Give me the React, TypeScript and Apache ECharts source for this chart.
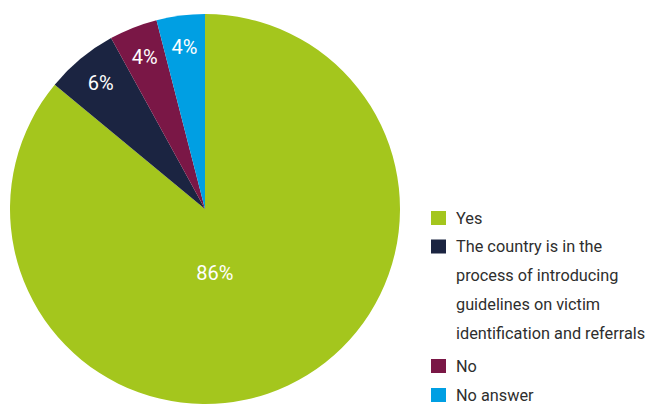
import React, { useEffect, useRef } from "react";
import * as echarts from "echarts";

const categories = [
  "Yes",
  "The country is in the\nprocess of introducing\nguidelines on victim\nidentification and referrals",
  "No",
  "No answer",
];
const values = [86, 6, 4, 4];
const colors = ["#a4c61d", "#1b2441", "#7a1746", "#009fe3"];

const FONT = "Roboto, 'Noto Sans', sans-serif";
const LH = 29;

export default function App() {
  const ref = useRef<HTMLDivElement>(null);
  useEffect(() => {
    if (!ref.current) return;
    const chart = echarts.init(ref.current, undefined, { renderer: "svg" });
    const data = categories.map((name, i) => ({
      name,
      value: values[i],
      itemStyle: { color: colors[i] },
    }));
    const legendText = {
      fontFamily: FONT,
      fontSize: 16.3,
      color: "#2e2e2e",
      lineHeight: LH,
      padding: [0, 0, 0, 5],
    };
    const tallIcon = `path://M0 ${LH / 2 - 7}H15V${LH / 2 + 7}H0Z M0 0L0 0 M0 ${LH * 4}L0 ${LH * 4}`;
    const legendBase = {
      orient: "vertical",
      left: 431,
      padding: 0,
      itemWidth: 15,
      itemHeight: 14,
      itemGap: 0,
      icon: "rect",
      textStyle: legendText,
      selectedMode: false,
      height: 200,
    };
    chart.setOption({
      animation: false,
      legend: [
        { ...legendBase, top: 203.5, data: [categories[0]] },
        { ...legendBase, top: 232, itemHeight: LH * 4, icon: tallIcon, data: [categories[1]] },
        { ...legendBase, top: 351.5, data: [categories[2], categories[3]] },
      ],
      series: [
        {
          type: "pie",
          center: [205, 209],
          radius: 195,
          startAngle: 90,
          clockwise: true,
          data: data.map((d, i) => ({
            ...d,
            label: { show: i === 0 },
          })),
          label: {
            position: "inside",
            color: "#ffffff",
            fontFamily: FONT,
            fontSize: 20,
            formatter: "{c}%",
          },
          labelLayout: (p: any) => (p.dataIndex === 0 ? { dx: -33, dy: -27 } : {}),
          labelLine: { show: false },
          emphasis: { disabled: true },
        },
        {
          type: "pie",
          center: [205, 209],
          radius: [126, 195],
          startAngle: 90,
          clockwise: true,
          silent: true,
          data: data.map((d, i) => ({
            name: d.name,
            value: d.value,
            itemStyle: { color: "rgba(0,0,0,0)" },
            label: { show: i !== 0 },
          })),
          label: {
            position: "inside",
            color: "#ffffff",
            fontFamily: FONT,
            fontSize: 20,
            formatter: "{c}%",
          },
          labelLine: { show: false },
          emphasis: { disabled: true },
        },
      ],
    });
    return () => chart.dispose();
  }, []);
  return (
    <div
      ref={ref}
      style={{ position: "absolute", left: 0, top: 0, width: 651, height: 405, background: "#fff" }}
    />
  );
}
